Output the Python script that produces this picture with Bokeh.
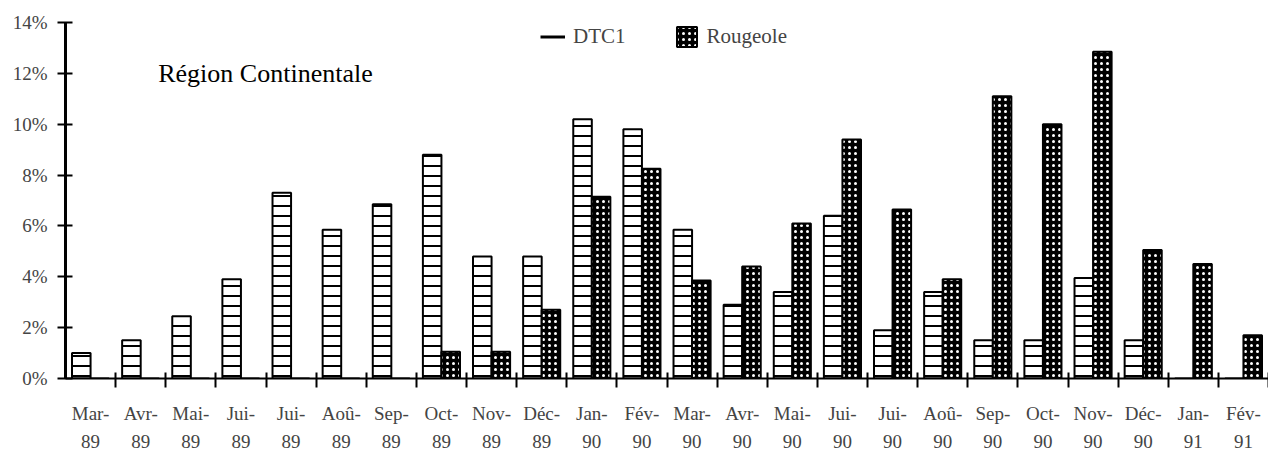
from bokeh.plotting import figure
from bokeh.models import (ColumnDataSource, Range1d, LinearAxis,
                          FixedTicker, PrintfTickFormatter, Legend, LegendItem, Label)
from bokeh.transform import dodge
from bokeh.embed import file_html
from bokeh.resources import INLINE

months = ["1989-03", "1989-04", "1989-05", "1989-06", "1989-07", "1989-08", "1989-09",
          "1989-10", "1989-11", "1989-12", "1990-01", "1990-02", "1990-03", "1990-04",
          "1990-05", "1990-06", "1990-07", "1990-08", "1990-09", "1990-10", "1990-11",
          "1990-12", "1991-01", "1991-02"]
month_labels = ["Mar-\n89", "Avr-\n89", "Mai-\n89", "Jui-\n89", "Jui-\n89", "Aoû-\n89", "Sep-\n89",
                "Oct-\n89", "Nov-\n89", "Déc-\n89", "Jan-\n90", "Fév-\n90", "Mar-\n90", "Avr-\n90",
                "Mai-\n90", "Jui-\n90", "Jui-\n90", "Aoû-\n90", "Sep-\n90", "Oct-\n90", "Nov-\n90",
                "Déc-\n90", "Jan-\n91", "Fév-\n91"]
dtc1 = [1.0, 1.5, 2.45, 3.9, 7.3, 5.85, 6.85, 8.8, 4.8, 4.8, 10.2, 9.8,
        5.85, 2.9, 3.4, 6.4, 1.9, 3.4, 1.5, 1.5, 3.95, 1.5, 0.0, 0.0]
rougeole = [0.0, 0.0, 0.0, 0.0, 0.0, 0.0, 0.0, 1.05, 1.05, 2.7, 7.15, 8.25,
            3.85, 4.4, 6.1, 9.4, 6.65, 3.9, 11.1, 10.0, 12.85, 5.05, 4.5, 1.7]
y_ticks = [0, 2, 4, 6, 8, 10, 12, 14]

FONT = "Liberation Serif"
n = len(months)
centers = [i + 0.5 for i in range(n)]      # category centres on a 0..n axis
bounds = list(range(1, n + 1))             # category boundaries

src = ColumnDataSource(dict(x=centers, month=months, dtc1=dtc1, rougeole=rougeole))

p = figure(width=1268, height=454, x_range=Range1d(0, n), y_range=Range1d(0, 14),
           x_axis_location=None, y_axis_location=None, output_backend="svg",
           toolbar_location=None, min_border_left=65, min_border_right=0,
           min_border_top=22, min_border_bottom=70)
p.outline_line_color = None
p.grid.visible = False
p.background_fill_color = "white"

r_dtc = p.vbar(x=dodge("x", -0.185), top="dtc1", width=0.37, source=src,
               fill_color="white", line_color="black", line_width=2,
               hatch_pattern="horizontal_line", hatch_color="black", hatch_scale=10, hatch_weight=2)
r_rou = p.vbar(x=dodge("x", 0.185), top="rougeole", width=0.37, source=src,
               fill_color="black", line_color="black", line_width=2,
               hatch_pattern="dot", hatch_color="white", hatch_scale=6, hatch_weight=1)
r_leg_line = p.line(x=[0.5], y=[0], line_color="black", line_width=3)

yaxis = LinearAxis(ticker=FixedTicker(ticks=y_ticks), formatter=PrintfTickFormatter(format="%d%%"),
                   major_tick_in=7, major_tick_out=8, major_tick_line_width=2,
                   axis_line_width=3, minor_tick_line_color=None,
                   major_label_text_font=FONT, major_label_text_font_size="19px",
                   major_label_standoff=10)
p.add_layout(yaxis, "left")

tick_axis = LinearAxis(ticker=FixedTicker(ticks=bounds),
                       major_tick_in=6, major_tick_out=9, major_tick_line_width=2,
                       axis_line_width=2, minor_tick_line_color=None,
                       major_label_text_font_size="1px", major_label_standoff=0,
                       major_label_overrides={b: "" for b in bounds})
p.add_layout(tick_axis, "below")

label_axis = LinearAxis(ticker=FixedTicker(ticks=centers), major_tick_line_color=None,
                        minor_tick_line_color=None, axis_line_color=None,
                        major_label_text_font=FONT, major_label_text_font_size="19px",
                        major_label_text_line_height=1.35,
                        major_label_standoff=9,
                        major_label_overrides=dict(zip(centers, month_labels)))
p.add_layout(label_axis, "below")

legend = Legend(items=[LegendItem(label="DTC1", renderers=[r_leg_line]),
                       LegendItem(label="Rougeole", renderers=[r_rou])],
                orientation="horizontal", location=(475, 329), padding=0, margin=0,
                spacing=48, label_standoff=8, glyph_width=25, glyph_height=25,
                label_text_font=FONT, label_text_font_size="21px",
                border_line_color=None, background_fill_alpha=0)
p.add_layout(legend, "center")

title = Label(x=1.85, y=12, text="Région Continentale",
              text_font=FONT, text_font_size="26px", text_baseline="middle", text_color="black")
p.add_layout(title)

open("out.html", "w").write(file_html(p, INLINE))
